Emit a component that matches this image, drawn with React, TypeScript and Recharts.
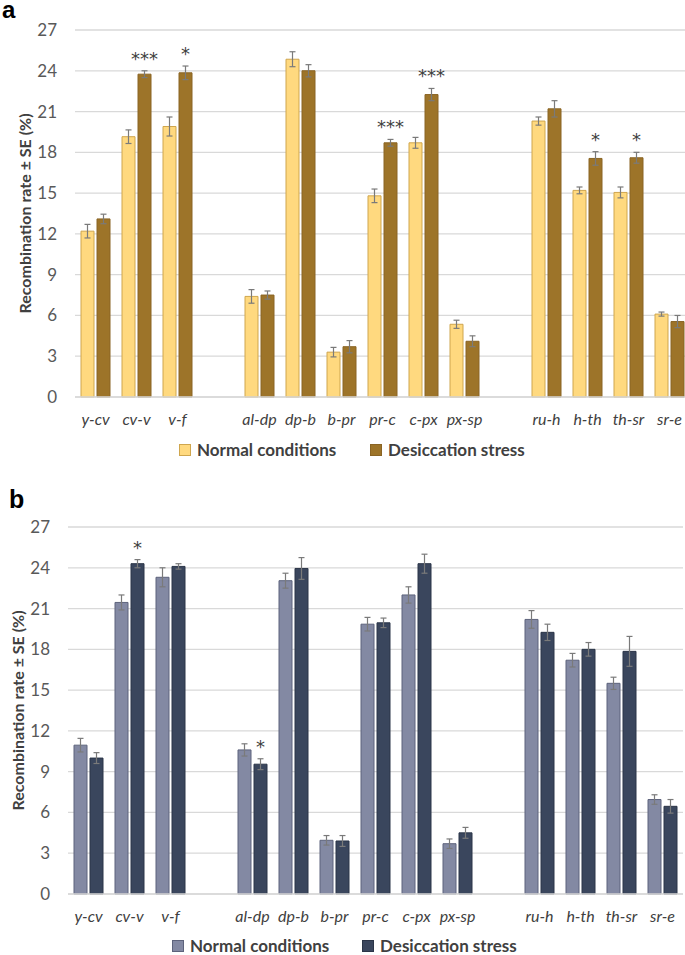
import React from "react";
import {
  Bar,
  BarChart,
  CartesianGrid,
  ErrorBar,
  LabelList,
  XAxis,
  YAxis,
  Label
} from "recharts";

const categories = ["y-cv", "cv-v", "v-f", "al-dp", "dp-b", "b-pr", "pr-c", "c-px", "px-sp", "ru-h", "h-th", "th-sr", "sr-e"];
// an empty slot goes in front of these categories
const groupStarts = [3, 9];
const yTicks = [0, 3, 6, 9, 12, 15, 18, 21, 24, 27];

// panel a
const normalA = [12.2, 19.15, 19.9, 7.4, 24.85, 3.3, 14.8, 18.7, 5.35, 20.3, 15.2, 15.05, 6.1];
const normalAErr = [0.5, 0.5, 0.7, 0.5, 0.55, 0.35, 0.5, 0.4, 0.3, 0.3, 0.25, 0.4, 0.15];
const stressA = [13.1, 23.75, 23.85, 7.5, 24.0, 3.7, 18.7, 22.25, 4.1, 21.2, 17.55, 17.6, 5.55];
const stressAErr = [0.35, 0.25, 0.5, 0.3, 0.45, 0.45, 0.25, 0.45, 0.4, 0.6, 0.5, 0.4, 0.45];
const sigA = ["", "***", "*", "", "", "", "***", "***", "", "", "*", "*", ""];

// panel b
const normalB = [10.95, 21.45, 23.3, 10.6, 23.05, 3.95, 19.85, 22.0, 3.7, 20.2, 17.2, 15.5, 6.95];
const normalBErr = [0.5, 0.55, 0.7, 0.45, 0.55, 0.35, 0.5, 0.6, 0.35, 0.65, 0.5, 0.45, 0.35];
const stressB = [10.0, 24.3, 24.1, 9.55, 23.95, 3.9, 19.95, 24.3, 4.5, 19.25, 18.0, 17.85, 6.45];
const stressBErr = [0.4, 0.3, 0.2, 0.4, 0.8, 0.4, 0.35, 0.7, 0.4, 0.6, 0.5, 1.1, 0.5];
const sigB = ["", "*", "", "*", "", "", "", "", "", "", "", "", ""];

type Row = {
  name: string;
  normal?: number;
  normalErr?: number;
  stress?: number;
  stressErr?: number;
  sig?: string;
};

function buildRows(normal: number[], normalErr: number[], stress: number[], stressErr: number[], sig: string[]) {
  const rows: Row[] = [];
  categories.forEach((name, i) => {
    if (groupStarts.includes(i)) rows.push({ name: "gap" + i });
    rows.push({ name, normal: normal[i], normalErr: normalErr[i], stress: stress[i], stressErr: stressErr[i], sig: sig[i] });
  });
  return rows;
}

const FONT = "Lato, 'Open Sans', sans-serif";

function XTick(props: any) {
  const { x, y, payload } = props;
  const v: string = payload.value;
  if (v.startsWith("gap")) return null;
  return (
    <text x={x} y={y} dy={12} textAnchor="middle" fill="#404040" fontSize={16} fontStyle="italic" fontFamily={FONT}>
      {v}
    </text>
  );
}

// LabelList only walks the bars that are drawn, so index into the rows that have a value
function makeStars(rows: Row[]) {
  const drawn = rows.filter((r) => r.stress != null);
  return (props: any) => {
    const vb = props.viewBox || props;
    const x = vb.x ?? props.x;
    const y = vb.y ?? props.y;
    const width = vb.width ?? props.width;
    const height = vb.height ?? props.height;
    const row = drawn[props.index];
    if (!row || !row.sig) return null;
    const scale = height / (row.stress as number);
    const errTop = y - (row.stressErr as number) * scale;
    return (
      <text
        x={x + width / 2}
        y={errTop - 15 + 9}
        textAnchor="middle"
        style={{ fill: "#404040" }}
        fontSize={18}
        fontFamily="'DejaVu Sans', sans-serif"
      >
        {row.sig}
      </text>
    );
  };
}

type PanelProps = {
  rows: Row[];
  top: number;
  axisWidth: number;
  rightMargin: number;
  labelX: number;
  normalFill: string;
  normalStroke: string;
  stressFill: string;
  stressStroke: string;
};

function Panel({ rows, top, axisWidth, rightMargin, labelX, normalFill, normalStroke, stressFill, stressStroke }: PanelProps) {
  return (
    <div style={{ position: "absolute", left: 0, top }}>
      <BarChart
        width={700}
        height={440}
        data={rows}
        margin={{ top: 30, right: rightMargin, bottom: 0, left: 0 }}
        barSize={13}
        barGap={3}
      >
        <CartesianGrid vertical={false} stroke="#d9d9d9" strokeWidth={1.3} />
        <XAxis
          dataKey="name"
          height={43}
          tick={<XTick />}
          tickLine={false}
          axisLine={{ stroke: "#d9d9d9", strokeWidth: 1.3 }}
          tickSize={0}
          tickMargin={16}
          interval={0}
        />
        <YAxis
          width={axisWidth}
          domain={[0, 27]}
          ticks={yTicks}
          axisLine={false}
          tickLine={false}
          tickSize={0}
          tickMargin={18}
          tick={{ fill: "#595959", fontSize: 17, fontFamily: FONT }}
        >
          <Label
            content={(p: any) => {
              const vb = p.viewBox;
              const cy = vb.y + vb.height / 2;
              return (
                <text
                  x={labelX}
                  y={cy}
                  transform={`rotate(-90 ${labelX} ${cy})`}
                  textAnchor="middle"
                  dominantBaseline="central"
                  fill="#404040"
                  fontSize={16}
                  fontWeight="bold"
                  fontFamily={FONT}
                >
                  Recombination rate ± SE (%)
                </text>
              );
            }}
          />
        </YAxis>
        <Bar dataKey="normal" fill={normalFill} stroke={normalStroke} strokeWidth={1} isAnimationActive={false}>
          <ErrorBar dataKey="normalErr" width={3} stroke="#7a7a7a" strokeWidth={1.2} />
        </Bar>
        <Bar dataKey="stress" fill={stressFill} stroke={stressStroke} strokeWidth={1} isAnimationActive={false}>
          <ErrorBar dataKey="stressErr" width={3} stroke="#7a7a7a" strokeWidth={1.2} />
          <LabelList dataKey="sig" content={makeStars(rows)} />
        </Bar>
      </BarChart>
    </div>
  );
}

function LegendRow({ top, items }: { top: number; items: { label: string; left: number; fill: string; stroke: string }[] }) {
  return (
    <>
      {items.map((it) => (
        <div key={it.label} style={{ position: "absolute", top, left: it.left, display: "flex", alignItems: "center", height: 17 }}>
          <span style={{ width: 10, height: 10, background: it.fill, border: `1px solid ${it.stroke}`, display: "inline-block" }} />
          <span style={{ marginLeft: 6, fontFamily: FONT, fontWeight: "bold", fontSize: 17, lineHeight: "17px", color: "#404040", whiteSpace: "nowrap" }}>
            {it.label}
          </span>
        </div>
      ))}
    </>
  );
}

export default function App() {
  const rowsA = buildRows(normalA, normalAErr, stressA, stressAErr, sigA);
  const rowsB = buildRows(normalB, normalBErr, stressB, stressBErr, sigB);
  return (
    <div style={{ position: "absolute", left: 0, top: 0, width: 685, height: 955, overflow: "hidden", background: "#fff" }}>
      <Panel
        rows={rowsA}
        top={0}
        axisWidth={75}
        rightMargin={10}
        labelX={24}
        normalFill="#ffd97f"
        normalStroke="#cfa64e"
        stressFill="#9d7429"
        stressStroke="#8a6424"
      />
      <LegendRow
        top={441}
        items={[
          { label: "Normal conditions", left: 179, fill: "#ffd97f", stroke: "#cfa64e" },
          { label: "Desiccation stress", left: 370, fill: "#9d7429", stroke: "#8a6424" }
        ]}
      />
      <Panel
        rows={rowsB}
        top={497}
        axisWidth={68}
        rightMargin={17}
        labelX={17}
        normalFill="#8389a3"
        normalStroke="#5d637c"
        stressFill="#3a465d"
        stressStroke="#2b3548"
      />
      <LegendRow
        top={937}
        items={[
          { label: "Normal conditions", left: 172, fill: "#8389a3", stroke: "#5d637c" },
          { label: "Desiccation stress", left: 362, fill: "#3a465d", stroke: "#2b3548" }
        ]}
      />
      <svg width={685} height={955} style={{ position: "absolute", left: 0, top: 0, pointerEvents: "none" }}>
        <text x={2} y={18} fontFamily="'Liberation Sans', Arial, sans-serif" fontWeight="bold" fontSize={24} fill="#000">
          a
        </text>
        <text x={9} y={508} fontFamily="'Liberation Sans', Arial, sans-serif" fontWeight="bold" fontSize={25} fill="#000">
          b
        </text>
      </svg>
    </div>
  );
}
